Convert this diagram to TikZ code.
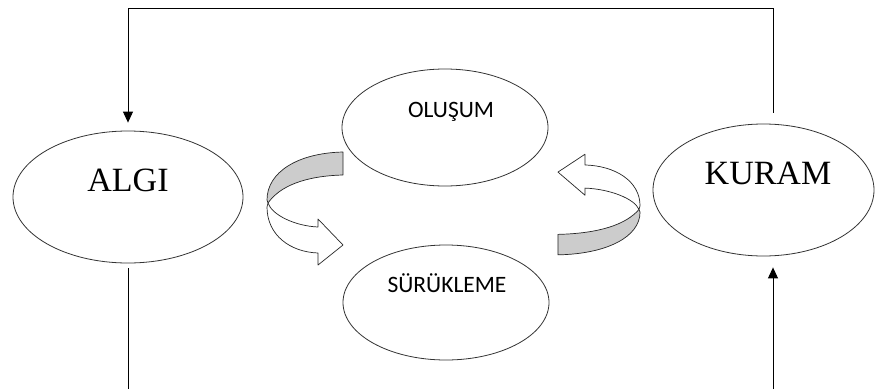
\documentclass[tikz,border=0pt]{standalone}
\usepackage{fontspec}
\setmainfont{Liberation Serif}
\newfontfamily\calfont{Carlito}
\usetikzlibrary{shapes.geometric,arrows.meta}
\newcommand\myribbon{%
  \draw[band, fill=white] (-37,-5) .. controls (-33,7) and (-10,18) .. (13,19)
    -- (13,11) -- (38,37) -- (13,57) -- (13,45)
    .. controls (-15,44) and (-38,27) .. (-38,-1) -- cycle;
  \draw[band, fill=black!20] (38,-56) .. controls (-7,-55) and (-38,-36) .. (-38,-8)
    -- (-37,-5) .. controls (-25,-22) and (0,-32) .. (38,-33) -- cycle;
}
\begin{document}
\begin{tikzpicture}[x=1pt,y=-1pt,
  oval/.style={ellipse, draw=black!80, line width=0.8pt, inner sep=0pt},
  bigtxt/.style={font=\fontsize{34}{40}\selectfont, anchor=base, inner sep=0pt},
  smalltxt/.style={font=\calfont\fontsize{23.5}{28}\selectfont, anchor=base, inner sep=0pt},
  conn/.style={line width=1pt, black},
  tip/.style={-{Triangle[length=11pt,width=10pt]}},
  band/.style={draw=black!85, line width=0.7pt, line join=round}]
\useasboundingbox (0,0) rectangle (876,389);

\node[oval, minimum width=230pt, minimum height=132pt] (algi) at (128,197) {};
\node[bigtxt] (algit) at (128,191) {ALGI};
\node[oval, minimum width=221pt, minimum height=132pt] (kuram) at (763.5,190) {};
\node[bigtxt] (kuramt) at (768,184) {KURAM};
\node[oval, minimum width=206pt, minimum height=117pt] (olus) at (445,127.5) {};
\node[smalltxt] (olust) at (451,117) {OLUŞUM};
\node[oval, minimum width=206pt, minimum height=115pt] (surk) at (446,302.5) {};
\node[smalltxt] (surkt) at (447,292) {SÜRÜKLEME};

\begin{scope}[shift={(305,208)}]
  \myribbon
\end{scope}
\begin{scope}[shift={(599,205)}, xscale=-1.08, yscale=-0.89]
  \myribbon
\end{scope}

\draw[conn, tip, shorten <=11pt, shorten >=8pt]
  ([xshift=9.5pt]kuram.north) -- ++(0,-115) -| (algi.north);
\coordinate (aend) at (128,389);
\draw[conn, shorten <=5pt] (algi.south) -- (aend);
\coordinate (kend) at (773,389);
\draw[conn, tip, shorten >=11pt] (kend) -- (kend |- kuram.south);
\end{tikzpicture}
\end{document}
